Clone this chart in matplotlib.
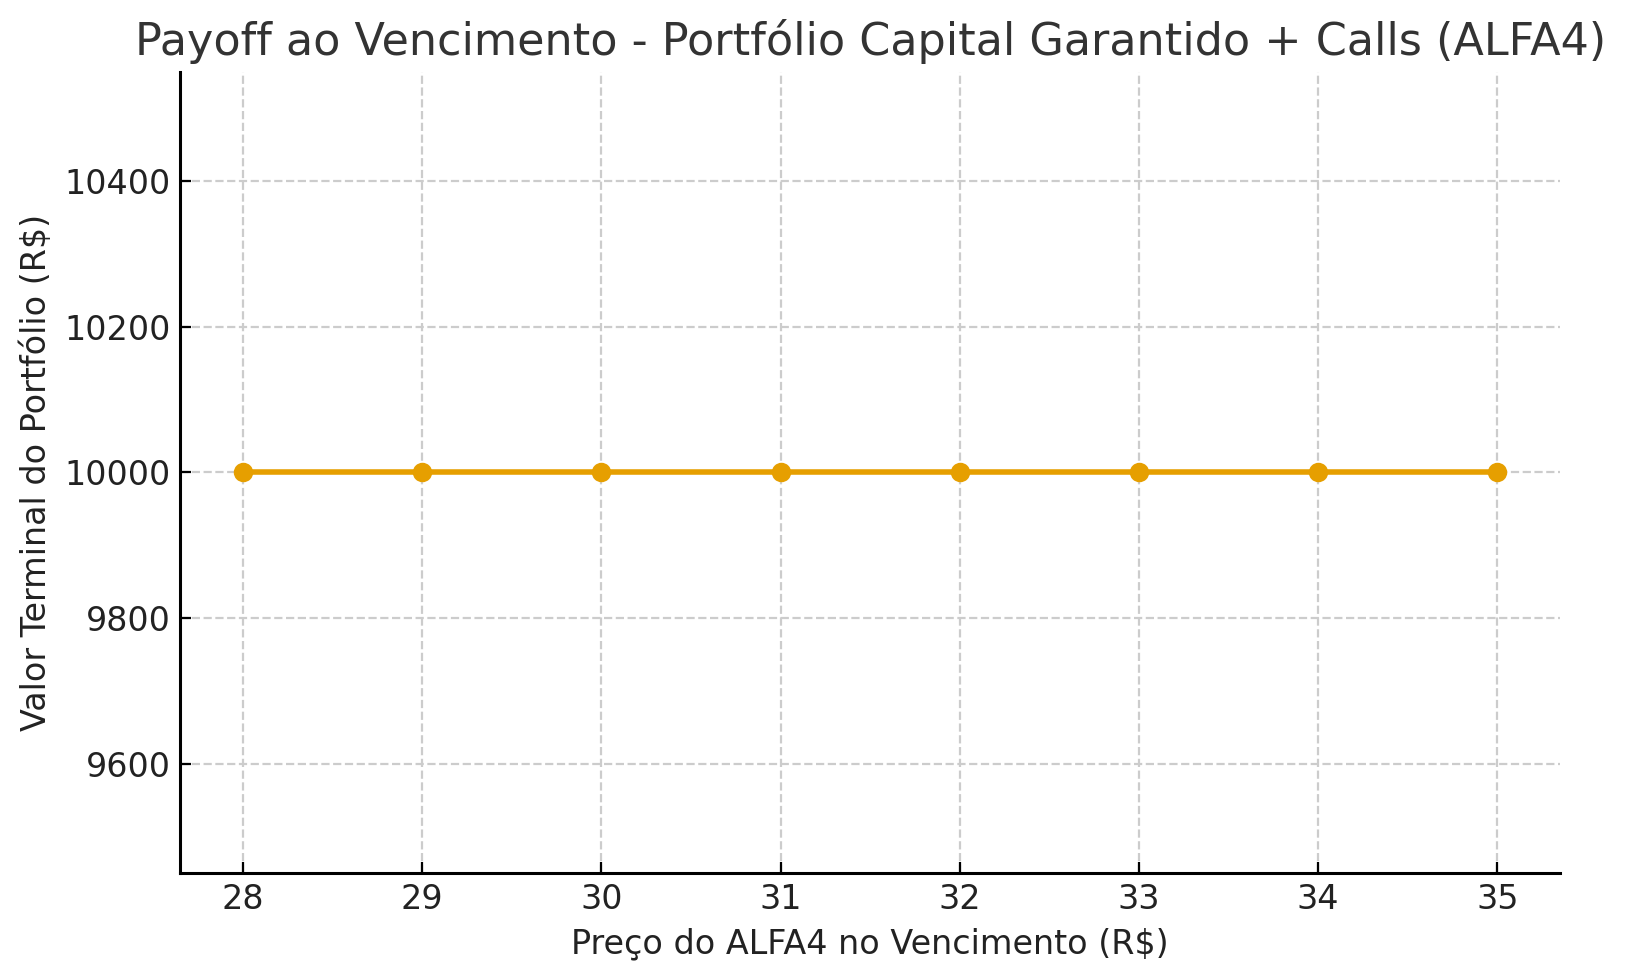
import matplotlib
matplotlib.use("Agg")
import matplotlib.pyplot as plt

# Preços do ativo no vencimento e valor terminal do portfólio
precos = [28, 29, 30, 31, 32, 33, 34, 35]
valor_terminal = [10000, 10000, 10000, 10000, 10000, 10000, 10000, 10000]

fig, ax = plt.subplots(figsize=(8.125, 4.9), dpi=200)
fig.subplots_adjust(left=0.111, right=0.96, top=0.927, bottom=0.109)

ax.plot(precos, valor_terminal, marker="o", color="#E69F00", linewidth=2, markersize=6)

ax.set_title("Payoff ao Vencimento - Portfólio Capital Garantido + Calls (ALFA4)",
             fontsize=16, color="#333333")
ax.set_xlabel("Preço do ALFA4 no Vencimento (R$)", fontsize=12, color="#222222")
ax.set_ylabel("Valor Terminal do Portfólio (R$)", fontsize=12, color="#222222")
ax.tick_params(direction="in", labelsize=12, length=4, labelcolor="#222222")
ax.grid(True, linestyle="--", color="#cccccc", linewidth=0.8)
for side in ["top", "right"]:
    ax.spines[side].set_visible(False)
for side in ["left", "bottom"]:
    ax.spines[side].set_linewidth(1.1)

fig.savefig("out.png", dpi=200)
